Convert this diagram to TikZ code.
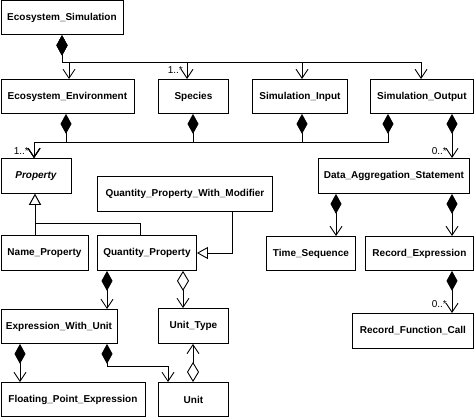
\documentclass[tikz,border=0pt]{standalone}
\usepackage{fontspec}
\setmainfont{Liberation Sans}
\usetikzlibrary{arrows.meta}
\begin{document}
\begin{tikzpicture}[x=1pt,y=-1pt,
  box/.style={draw, line width=0.9pt, anchor=north west, inner sep=0pt,
    font=\fontsize{10}{12}\selectfont\bfseries, align=center},
  lbl/.style={font=\fontsize{10}{11}\selectfont, inner sep=0pt},
  comp/.style={line width=0.9pt, {Diamond[length=20pt,width=11pt]}-{Straight Barb[length=9pt,width=12pt,line width=0.9pt]}},
  aggr/.style={line width=0.9pt, {Diamond[open,length=20pt,width=12pt,fill=white]}-{Straight Barb[length=9pt,width=12pt,line width=0.9pt]}},
  inh/.style={line width=0.9pt, -{Triangle[open,length=11pt,width=12pt,fill=white]}}
]
\useasboundingbox (0,0) rectangle (474,417);
% nodes
\node[box, minimum width=122, minimum height=34] (ES) at (0.5,0.5) {Ecosystem\_Simulation};
\node[box, minimum width=133, minimum height=34] (EE) at (0.5,79) {Ecosystem\_Environment};
\node[box, minimum width=70, minimum height=34] (SP) at (158,79) {Species};
\node[box, minimum width=95, minimum height=34] (SI) at (252,79) {Simulation\_Input};
\node[box, minimum width=103, minimum height=34] (SO) at (370,79) {Simulation\_Output};
\node[box, minimum width=70, minimum height=35] (PR) at (0.5,158) {\itshape Property};
\node[box, minimum width=175, minimum height=35] (QPWM) at (97,176) {Quantity\_Property\_With\_Modifier};
\node[box, minimum width=151, minimum height=35] (DAS) at (318,158) {Data\_Aggregation\_Statement};
\node[box, minimum width=87, minimum height=35] (NP) at (0.5,235) {Name\_Property};
\node[box, minimum width=99, minimum height=35] (QP) at (97,235) {Quantity\_Property};
\node[box, minimum width=89, minimum height=34] (TS) at (266,236) {Time\_Sequence};
\node[box, minimum width=108, minimum height=34] (RE) at (365,236) {Record\_Expression};
\node[box, minimum width=116, minimum height=34] (EWU) at (0.5,309) {Expression\_With\_Unit};
\node[box, minimum width=70, minimum height=35] (UT) at (158,308) {Unit\_Type};
\node[box, minimum width=121, minimum height=35] (RFC) at (352,313) {Record\_Function\_Call};
\node[box, minimum width=144, minimum height=34] (FPE) at (0.5,382) {Floating\_Point\_Expression};
\node[box, minimum width=70, minimum height=34] (UN) at (158,382) {Unit};
% Ecosystem_Simulation compositions
\draw[comp] (ES.south -| 62,0) |- (69,62) -- (EE.north -| 69,0);
\draw[comp] (ES.south -| 62,0) |- (187,62) -- (SP.north -| 187,0);
\draw[comp] (ES.south -| 62,0) |- (302,62) -- (SI.north -| 302,0);
\draw[comp] (ES.south -| 62,0) |- (421,62) -- (SO.north -| 421,0);
\node[lbl, anchor=east] (m1) at (183,70) {1..*};
% to Property
\draw[comp] (EE.south -| 66,0) |- (34,142) -- (PR.north -| 34,0);
\draw[comp] (SP.south -| 193,0) |- (34,142) -- (PR.north -| 34,0);
\draw[comp] (SI.south -| 302,0) |- (34,142) -- (PR.north -| 34,0);
\draw[comp] (SO.south -| 388,0) |- (34,142) -- (PR.north -| 34,0);
\node[lbl, anchor=east] (m2) at (29,151) {1..*};
% Simulation_Output to DAS
\draw[comp] (SO.south -| 452,0) -- (DAS.north -| 452,0);
\node[lbl, anchor=east] (m3) at (447,151) {0..*};
% DAS
\draw[comp] (DAS.south -| 336,0) -- (TS.north -| 336,0);
\draw[comp] (DAS.south -| 452,0) -- (RE.north -| 452,0);
\draw[comp] (RE.south -| 452,0) -- (RFC.north -| 452,0);
\node[lbl, anchor=east] (m4) at (447,304) {0..*};
% inheritance
\draw[inh] (NP.north -| 35,0) -- (PR.south -| 35,0);
\draw[inh] (QP.north -| 140,0) |- (35,223) -- (PR.south -| 35,0);
\draw[inh] (QPWM.south -| 232,0) |- (QP.east |- 0,253);
% Quantity_Property
\draw[comp] (QP.south -| 107,0) -- (EWU.north -| 107,0);
\draw[aggr] (QP.south -| 183,0) -- (UT.north -| 183,0);
% Expression_With_Unit
\draw[comp] (EWU.south -| 20,0) -- (FPE.north -| 20,0);
\draw[comp] (EWU.south -| 107,0) |- (168,366) -- (UN.north -| 168,0);
% Unit to Unit_Type
\draw[aggr] (UN.north -| 193,0) -- (UT.south -| 193,0);
\end{tikzpicture}
\end{document}
